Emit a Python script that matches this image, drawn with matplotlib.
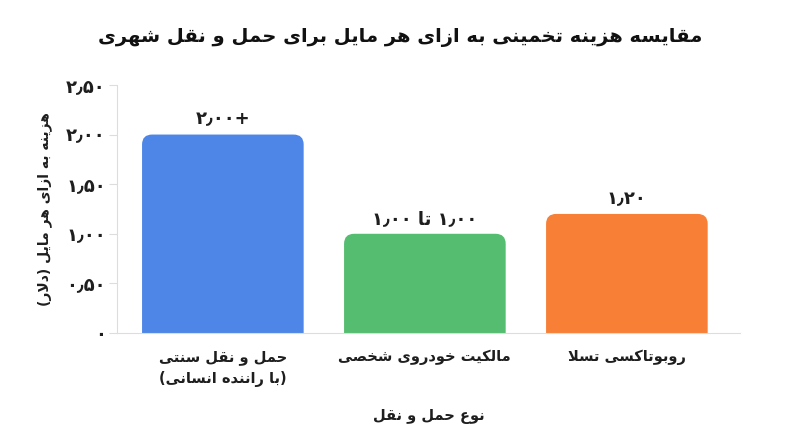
import matplotlib
matplotlib.use("Agg")
import matplotlib.pyplot as plt
from matplotlib.patches import FancyBboxPatch

# --- data ---
title = "مقایسه هزینه تخمینی به ازای هر مایل برای حمل و نقل شهری"
ylabel = "هزینه به ازای هر مایل (دلار)"
xlabel = "نوع حمل و نقل"
categories = ["حمل و نقل سنتی\n(با راننده انسانی)", "مالکیت خودروی شخصی", "روبوتاکسی تسلا"]
values = [2.00, 1.00, 1.20]
value_labels = ["۲٫۰۰+", "۱٫۰۰ تا ۱٫۰۰", "۱٫۲۰"]
yticks = [0, 0.5, 1.0, 1.5, 2.0, 2.5]
ytick_labels = ["۰", "۰٫۵۰", "۱٫۰۰", "۱٫۵۰", "۲٫۰۰", "۲٫۵۰"]
colors = ["#4D86E7", "#55BD6F", "#F77F36"]

# --- tiny arabic/persian shaper (matplotlib has no text shaping) ---
FORMS = {
    'ا': (0xFE8D, 0xFE8E, None, None), 'د': (0xFEA9, 0xFEAA, None, None),
    'ر': (0xFEAD, 0xFEAE, None, None), 'ز': (0xFEAF, 0xFEB0, None, None),
    'و': (0xFEED, 0xFEEE, None, None),
    'ب': (0xFE8F, 0xFE90, 0xFE91, 0xFE92), 'ت': (0xFE95, 0xFE96, 0xFE97, 0xFE98),
    'ح': (0xFEA1, 0xFEA2, 0xFEA3, 0xFEA4), 'خ': (0xFEA5, 0xFEA6, 0xFEA7, 0xFEA8),
    'س': (0xFEB1, 0xFEB2, 0xFEB3, 0xFEB4), 'ش': (0xFEB5, 0xFEB6, 0xFEB7, 0xFEB8),
    'ص': (0xFEB9, 0xFEBA, 0xFEBB, 0xFEBC), 'ع': (0xFEC9, 0xFECA, 0xFECB, 0xFECC),
    'ق': (0xFED5, 0xFED6, 0xFED7, 0xFED8), 'ل': (0xFEDD, 0xFEDE, 0xFEDF, 0xFEE0),
    'م': (0xFEE1, 0xFEE2, 0xFEE3, 0xFEE4), 'ن': (0xFEE5, 0xFEE6, 0xFEE7, 0xFEE8),
    'ه': (0xFEE9, 0xFEEA, 0xFEEB, 0xFEEC), 'ی': (0xFBFC, 0xFBFD, 0xFBFE, 0xFBFF),
    'ک': (0xFB8E, 0xFB8F, 0xFB90, 0xFB91),
}
MIRROR = {'(': ')', ')': '('}


def shape_word(s):
    out = []
    i = 0
    n = len(s)
    while i < n:
        c = s[i]
        if c not in FORMS:
            out.append(c)
            i += 1
            continue
        prev = s[i - 1] if i > 0 else None
        joined_prev = prev in FORMS and FORMS[prev][2] is not None
        if c == 'ل' and i + 1 < n and s[i + 1] == 'ا':
            out.append(chr(0xFEFC if joined_prev else 0xFEFB))
            i += 2
            continue
        nxt = s[i + 1] if i + 1 < n else None
        joins_next = FORMS[c][2] is not None and nxt in FORMS
        iso, fin, ini, med = FORMS[c]
        if joined_prev and joins_next:
            out.append(chr(med))
        elif joined_prev:
            out.append(chr(fin))
        elif joins_next:
            out.append(chr(ini))
        else:
            out.append(chr(iso))
        i += 1
    return ''.join(out)


def rtl(text):
    lines = []
    for line in text.split('\n'):
        shaped = shape_word(line)
        # digit runs keep their order, the rest is reversed
        runs, cur, cur_num = [], '', None
        for ch in shaped:
            is_num = ch in '۰۱۲۳۴۵۶۷۸۹٫+'
            if cur and is_num != cur_num:
                runs.append((cur, cur_num))
                cur = ''
            cur += ch
            cur_num = is_num
        if cur:
            runs.append((cur, cur_num))
        vis = []
        for r, num in reversed(runs):
            vis.append(r if num else ''.join(MIRROR.get(ch, ch) for ch in reversed(r)))
        lines.append(''.join(vis))
    return '\n'.join(lines)


plt.rcParams['font.family'] = ['DejaVu Sans']
dark = '#1E1E1E'

fig = plt.figure(figsize=(8, 4.47), dpi=100)
ax = fig.add_axes([0.146, 0.255, 0.779, 0.555])

x = list(range(len(categories)))
bars = ax.bar(x, values, width=0.8, color=colors)
for b, col in zip(bars, colors):
    b.set_visible(False)
    ext = 0.2
    p = FancyBboxPatch((b.get_x(), -ext), b.get_width(), b.get_height() + ext,
                       boxstyle="round,pad=0,rounding_size=0.05",
                       mutation_aspect=2.0, facecolor=col, edgecolor='none',
                       clip_on=True)
    ax.add_patch(p)

for b, lab in zip(bars, value_labels):
    ax.text(b.get_x() + b.get_width() / 2, b.get_height() + 0.06, rtl(lab),
            ha='center', va='bottom', fontsize=13, fontweight='bold', color=dark)

ax.set_xlim(-0.525, 2.56)
ax.set_ylim(0, 2.5)
ax.set_yticks(yticks)
ax.set_yticklabels(ytick_labels, fontsize=13, fontweight='bold', color=dark)
ax.set_xticks(x)
ax.set_xticklabels([rtl(c) for c in categories], fontsize=10.5, fontweight='bold',
                   color=dark, linespacing=1.5)
ax.tick_params(axis='y', length=6, color='#DDDDDD', pad=2)
ax.tick_params(axis='x', length=0, pad=12)
for s in ['top', 'right']:
    ax.spines[s].set_visible(False)
ax.spines['left'].set_color('#DDDDDD')
ax.spines['bottom'].set_color('#DDDDDD')

ax.set_ylabel(rtl(ylabel), fontsize=10, fontweight='bold', color=dark, labelpad=10)
ax.set_xlabel(rtl(xlabel), fontsize=10.5, fontweight='bold', color=dark, labelpad=16)
fig.text(0.5, 0.915, rtl(title), ha='center', va='center', fontsize=14,
         fontweight='bold', color='#111111')

fig.savefig("out.png", dpi=100, facecolor='white')
